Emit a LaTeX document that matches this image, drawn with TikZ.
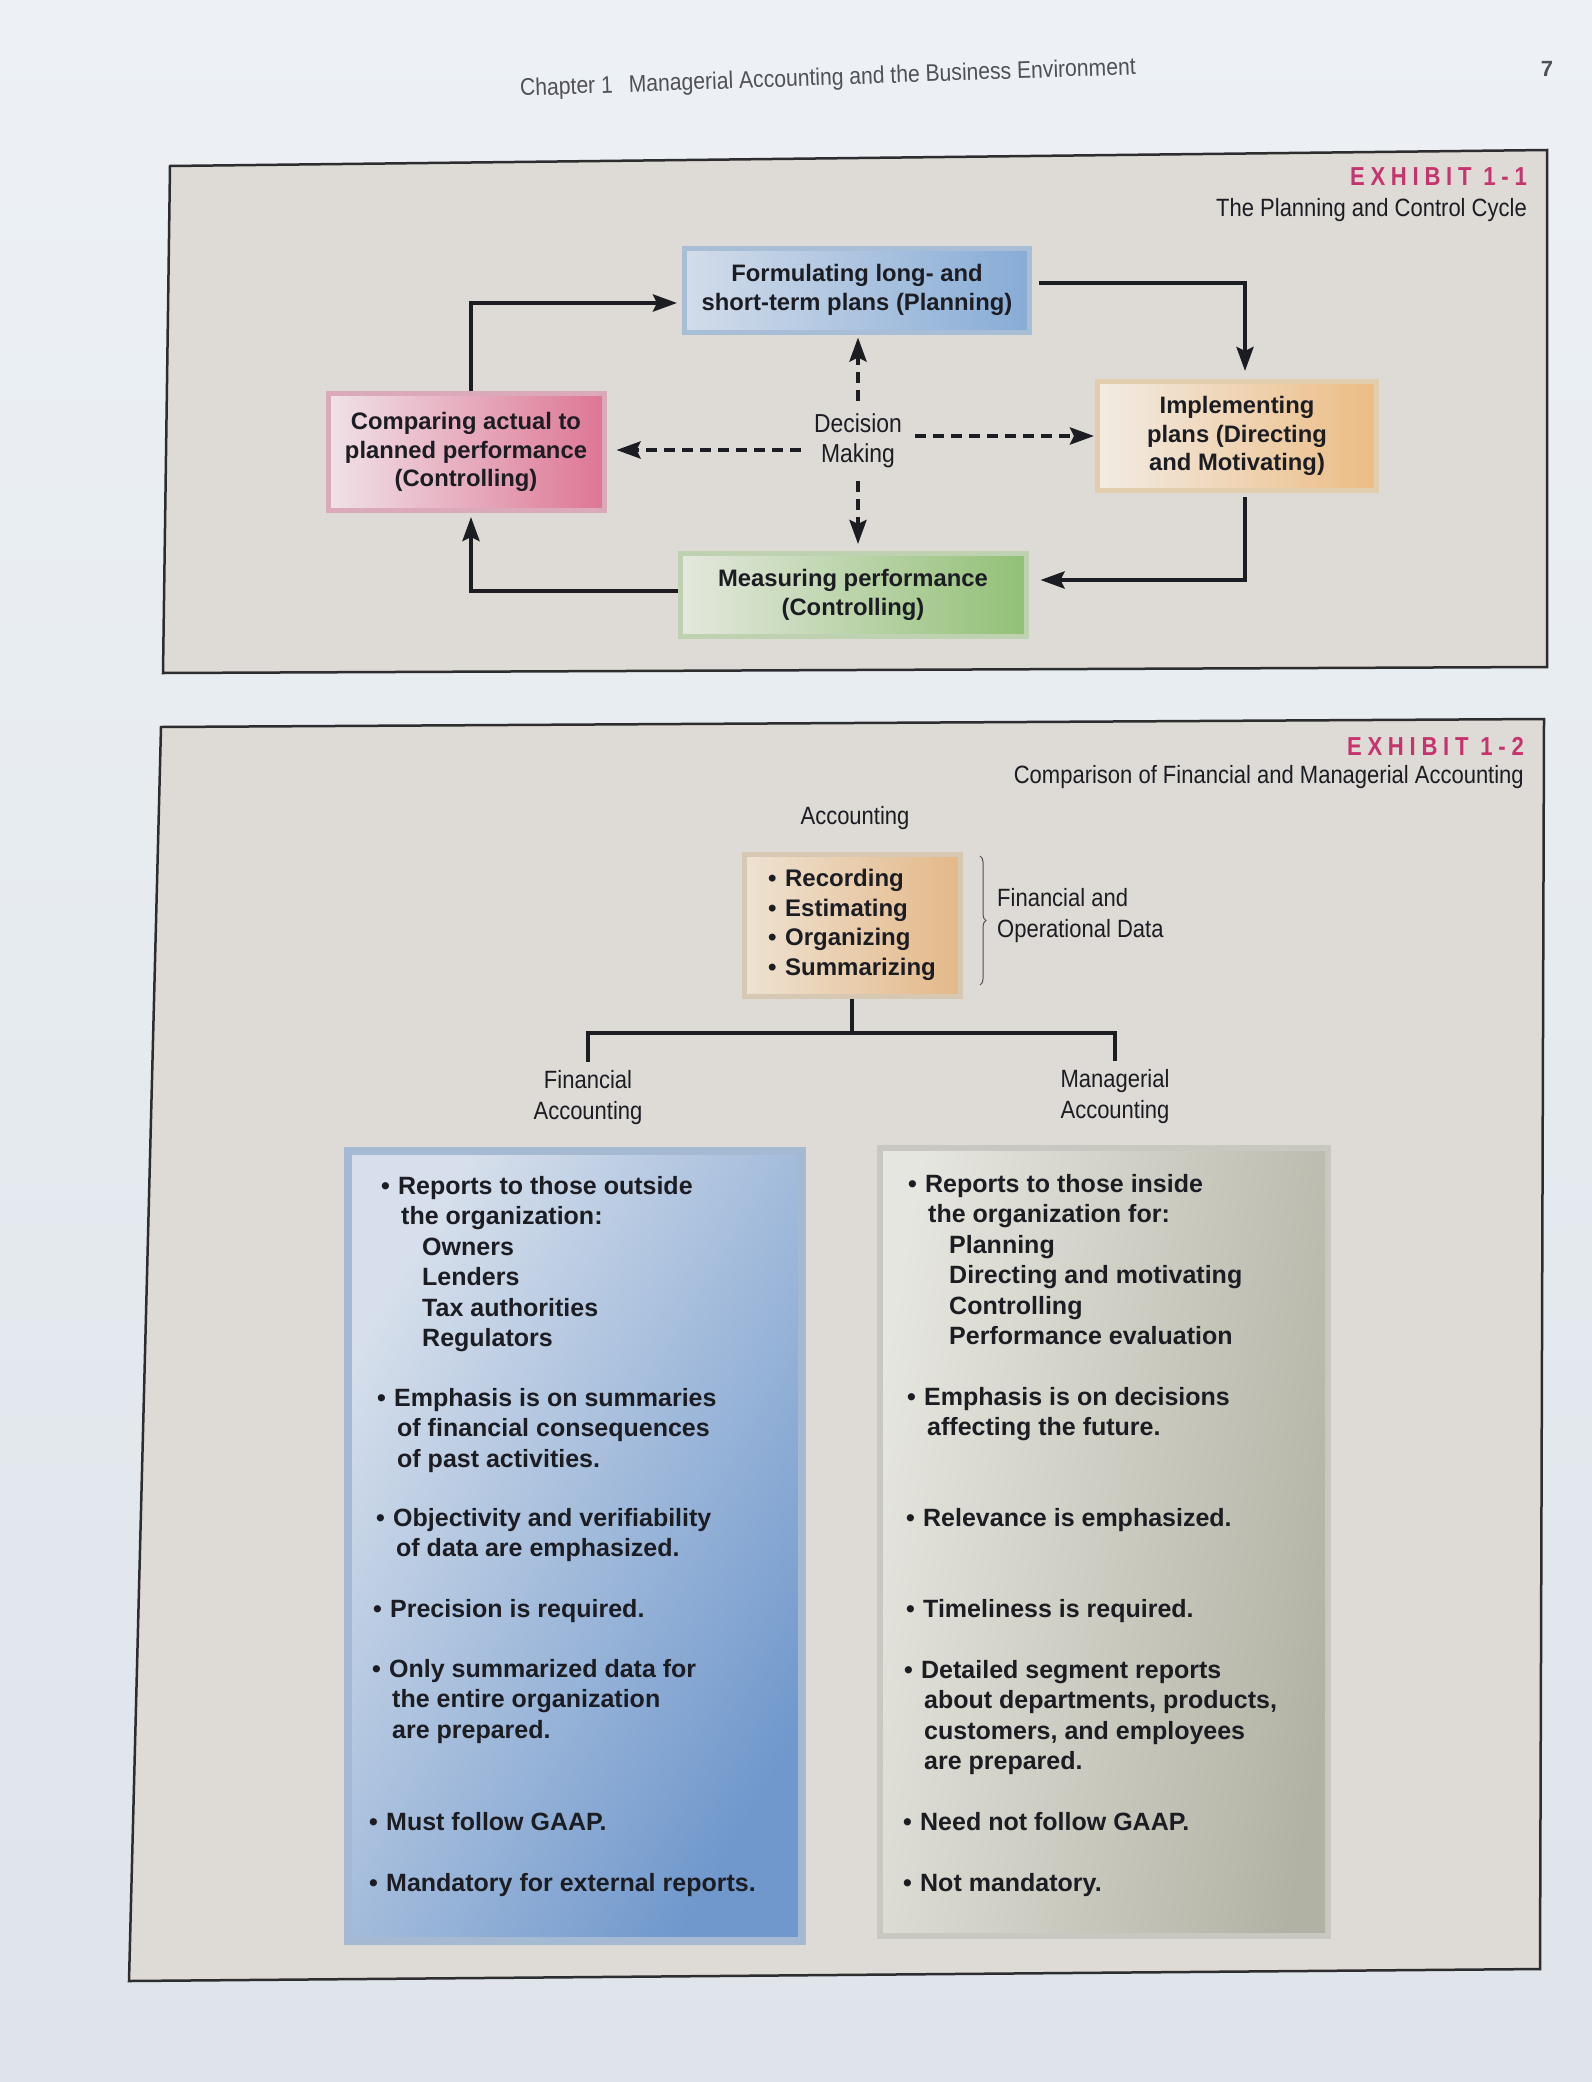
\documentclass[tikz,border=0pt]{standalone}
\usepackage{fontspec}
\setmainfont{Liberation Sans}
\newfontfamily\condf[FakeStretch=0.88]{Liberation Sans}
\newfontfamily\exhf[FakeStretch=0.85,LetterSpace=22]{Liberation Sans}
\usetikzlibrary{arrows.meta,decorations.pathreplacing}
\definecolor{pagebg}{RGB}{237,241,245}
\definecolor{pagebgb}{RGB}{222,228,234}
\definecolor{framefill}{RGB}{222,218,213}
\definecolor{frameline}{RGB}{45,45,48}
\definecolor{ink}{RGB}{28,28,35}
\definecolor{hdr}{RGB}{80,80,88}
\definecolor{exh}{RGB}{198,52,112}
\definecolor{pL}{RGB}{210,220,234}\definecolor{pR}{RGB}{135,172,214}\definecolor{pB}{RGB}{168,190,214}
\definecolor{oL}{RGB}{242,236,228}\definecolor{oR}{RGB}{236,188,132}\definecolor{oB}{RGB}{228,205,175}
\definecolor{kL}{RGB}{240,226,232}\definecolor{kR}{RGB}{222,118,148}\definecolor{kB}{RGB}{218,170,186}
\definecolor{gL}{RGB}{228,232,222}\definecolor{gR}{RGB}{146,192,118}\definecolor{gB}{RGB}{190,210,178}
\definecolor{aL}{RGB}{238,226,210}\definecolor{aR}{RGB}{228,184,136}\definecolor{aB}{RGB}{215,200,180}
\definecolor{lbL}{RGB}{214,223,235}\definecolor{lbR}{RGB}{112,152,204}\definecolor{lbB}{RGB}{165,185,210}
\definecolor{rbL}{RGB}{230,230,224}\definecolor{rbR}{RGB}{178,178,164}\definecolor{rbB}{RGB}{200,200,192}
\newcommand\bul{\makebox[17pt][l]{\textbullet}}
\newcommand\ind{\hspace*{20pt}}
\newcommand\subi{\hspace*{41pt}}
\begin{document}
\begin{tikzpicture}[x=1pt,y=-1pt,
  every node/.style={inner sep=0pt, text=ink},
  cyclebox/.style={line width=5pt, align=center, font=\fontsize{23.8}{28.5}\selectfont\bfseries},
  arr/.style={draw=ink, line width=4pt, -{Stealth[length=24pt,width=17pt,inset=4pt]}},
  darr/.style={arr, dash pattern=on 11pt off 7pt},
  tree/.style={draw=ink, line width=4.5pt},
  cond/.style={font=\condf\fontsize{25}{31}\selectfont, align=center},
  itxt/.style={anchor=north west, align=left, font=\fontsize{25}{30.5}\selectfont\bfseries}]
\useasboundingbox (0,0) rectangle (1592,2082);
\fill[top color=pagebg, bottom color=pagebgb] (0,0) rectangle (1592,2082);
% header
\node[font=\condf\fontsize{24}{28}\selectfont, text=hdr, rotate=2] (hdr) at (828,79) {Chapter 1\hspace{16pt}Managerial Accounting and the Business Environment};
\node[font=\fontsize{22}{26}\selectfont\bfseries, text=hdr] (pg) at (1547,69) {7};
% frames
\filldraw[fill=framefill, draw=frameline, line width=2.5pt] (170,166) -- (1547,150) -- (1547,667) -- (163,673) -- cycle;
\filldraw[fill=framefill, draw=frameline, line width=2.5pt] (161,727) -- (1544,719) -- (1540,1969) -- (129,1981) -- cycle;
% Exhibit 1-1
\node[anchor=east, font=\exhf\fontsize{26}{30}\selectfont\bfseries, text=exh] (ex1) at (1527,177) {EXHIBIT 1-1};
\node[anchor=east, cond] (ex1t) at (1527,210) {The Planning and Control Cycle};
\node[cyclebox, draw=pB, left color=pL, right color=pR, minimum width=345pt, minimum height=84pt] (plan) at (857,290) {Formulating long- and\\short-term plans (Planning)};
\node[cyclebox, draw=oB, left color=oL, right color=oR, minimum width=279pt, minimum height=109pt] (impl) at (1237,436) {Implementing\\plans (Directing\\and Motivating)};
\node[cyclebox, draw=kB, left color=kL, right color=kR, minimum width=276pt, minimum height=117pt] (comp) at (466,452) {Comparing actual to\\planned performance\\(Controlling)};
\node[cyclebox, draw=gB, left color=gL, right color=gR, minimum width=346pt, minimum height=83pt] (meas) at (853,595) {Measuring performance\\(Controlling)};
\node[font=\condf\fontsize{26}{30}\selectfont, align=center, inner sep=13pt] (dec) at (858,441) {Decision\\Making};
\coordinate (k1) at (471,303);
\coordinate (k2) at (1245,283);
\coordinate (k3) at (1245,580);
\coordinate (k4) at (471,591);
\draw[arr, shorten >=5pt] (comp.north -| k1) -- (k1) -- (k1 -| plan.west);
\draw[arr, shorten <=7pt, shorten >=8pt] (plan.east |- k2) -- (k2) -- (k2 |- impl.north);
\draw[arr, shorten <=4pt, shorten >=12pt] (k3 |- impl.south) -- (k3) -- (k3 -| meas.east);
\draw[arr, shorten >=4pt] (meas.west |- k4) -- (k4) -- (k4 |- comp.south);
\coordinate (dl) at ([yshift=-9pt]dec.west);
\coordinate (dr) at ([yshift=5pt]dec.east);
\draw[darr, shorten >=3pt] (dec.north) -- (dec.north |- plan.south);
\draw[darr, shorten >=7pt] (dec.south) -- (dec.south |- meas.north);
\draw[darr, shorten >=10pt] (dl) -- (dl -| comp.east);
\draw[darr, shorten >=1pt] (dr) -- (dr -| impl.west);
% Exhibit 1-2
\node[anchor=east, font=\exhf\fontsize{26}{30}\selectfont\bfseries, text=exh] (ex2) at (1524,746) {EXHIBIT 1-2};
\node[anchor=east, cond] (ex2t) at (1524,777) {Comparison of Financial and Managerial Accounting};
\node[cond] (acc) at (855,818) {Accounting};
\node[draw=aB, line width=5pt, left color=aL, right color=aR, minimum width=216pt, minimum height=142pt, align=left, font=\fontsize{24}{29.6}\selectfont\bfseries] (abox) at (852,925) {\bul Recording\\\bul Estimating\\\bul Organizing\\\bul Summarizing};
\draw[decorate, decoration={brace, amplitude=6pt}, line width=1pt, draw=hdr] (980,856) -- (980,985);
\node[cond, align=left, anchor=west] (fod) at (997,916) {Financial and\\Operational Data};
\node[cond, inner sep=9pt] (fa) at (588,1098) {Financial\\Accounting};
\node[cond, inner sep=9pt] (ma) at (1115,1097) {Managerial\\Accounting};
\coordinate (tl) at (588,1033);
\draw[tree] (abox.south) -- (abox.south |- tl);
\draw[tree] (fa.north) -- (fa.north |- tl) -- (ma.north |- tl) -- (ma.north);
\node[draw=lbB, line width=8pt, left color=lbL, right color=lbR, shading angle=60, minimum width=454pt, minimum height=790pt] (fin) at (575,1546) {};
\node[draw=rbB, line width=6pt, left color=rbL, right color=rbR, shading angle=80, minimum width=448pt, minimum height=788pt] (man) at (1104,1542) {};
% left texts
\node[itxt] (g1) at (381,1176) {\bul Reports to those outside\\\ind the organization:\\\subi Owners\\\subi Lenders\\\subi Tax authorities\\\subi Regulators};
\node[itxt] (g2) at (377,1388) {\bul Emphasis is on summaries\\\ind of financial consequences\\\ind of past activities.};
\node[itxt] (g3) at (376,1508) {\bul Objectivity and verifiability\\\ind of data are emphasized.};
\node[itxt] (g4) at (373,1599) {\bul Precision is required.};
\node[itxt] (g5) at (372,1659) {\bul Only summarized data for\\\ind the entire organization\\\ind are prepared.};
\node[itxt] (g6) at (369,1812) {\bul Must follow GAAP.};
\node[itxt] (g7) at (369,1873) {\bul Mandatory for external reports.};
% right texts
\node[itxt] (r1) at (908,1174) {\bul Reports to those inside\\\ind the organization for:\\\subi Planning\\\subi Directing and motivating\\\subi Controlling\\\subi Performance evaluation};
\node[itxt] (r2) at (907,1387) {\bul Emphasis is on decisions\\\ind affecting the future.};
\node[itxt] (r3) at (906,1508) {\bul Relevance is emphasized.};
\node[itxt] (r4) at (906,1599) {\bul Timeliness is required.};
\node[itxt] (r5) at (904,1660) {\bul Detailed segment reports\\\ind about departments, products,\\\ind customers, and employees\\\ind are prepared.};
\node[itxt] (r6) at (903,1812) {\bul Need not follow GAAP.};
\node[itxt] (r7) at (903,1873) {\bul Not mandatory.};
\end{tikzpicture}
\end{document}
